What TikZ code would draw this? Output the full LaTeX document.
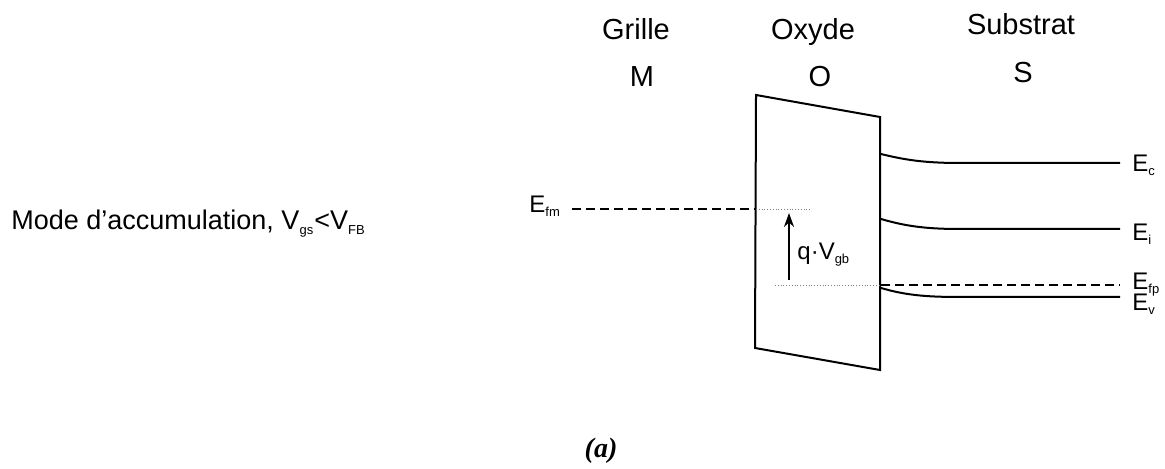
\documentclass[tikz,border=0pt]{standalone}
\usepackage{fontspec}
\setmainfont{Liberation Sans}
\newfontfamily\capfont{Liberation Serif}
\usetikzlibrary{arrows.meta}
\tikzset{
  band/.style={line width=1pt},
  fermi/.style={line width=1pt, dash pattern=on 4.5pt off 2.5pt},
  guide/.style={line width=0.4pt, gray, densely dotted},
  lbl/.style={inner sep=0pt, font=\fontsize{12}{14}\selectfont},
  head/.style={inner sep=0pt, anchor=base, font=\fontsize{14.5}{17}\selectfont}
}
\newcommand{\sub}[1]{\textsubscript{\fontsize{6.5}{7}\selectfont #1}}
\begin{document}
\begin{tikzpicture}[x=0.5pt, y=-0.5pt]
  \useasboundingbox (0,0) rectangle (1165,469);
  % titres
  \node[head] (grille) at (636,40) {Grille};
  \node[head] (oxyde) at (813,40) {Oxyde};
  \node[head] (substrat) at (1021,35) {Substrat};
  \node[head] (m) at (642,87) {M};
  \node[head] (o) at (820,87) {O};
  \node[head] (s) at (1023,83) {S};
  \node[inner sep=0pt, anchor=base west, font=\fontsize{13.5}{16}\selectfont] (mode) at (11,230)
    {Mode d'accumulation, V\sub{gs}<V\sub{FB}};
  % oxyde
  \coordinate (ox1) at (756,95);
  \coordinate (ox2) at (880,117);
  \coordinate (ox3) at (880,370);
  \coordinate (ox4) at (755,348);
  \draw[line width=1pt] (ox1)--(ox2)--(ox3)--(ox4)--cycle;
  % niveaux
  \coordinate (fm1) at (572,209);
  \coordinate (fm2) at (756,209);
  \coordinate (fm3) at (810,209);
  \coordinate (fp0) at (775,285);
  \coordinate (fp1) at (881,285);
  \coordinate (fp2) at (1120,285);
  \coordinate (c1) at (881,154);
  \coordinate (c2) at (1120,163);
  \coordinate (i1) at (881,219);
  \coordinate (i2) at (1120,229);
  \coordinate (v1) at (881,288);
  \coordinate (v2) at (1120,297);
  \draw[fermi] (fm1)--(fm2);
  \draw[guide] (fm2)--(fm3);
  \draw[guide] (fp0)--(fp1);
  \draw[fermi] (fp1)--(fp2);
  \draw[band] (c1) .. controls (905,160) and (925,163) .. (960,163) -- (c2);
  \draw[band] (i1) .. controls (905,226) and (925,229) .. (960,229) -- (i2);
  \draw[band] (v1) .. controls (905,295) and (925,297) .. (960,297) -- (v2);
  \coordinate (a1) at (789,280);
  \coordinate (a2) at (789,213);
  \draw[line width=1.4pt, -{Stealth[length=7pt, width=5pt]}] (a1)--(a2);
  \node[lbl, anchor=base west] (qv) at (797,260) {q·V\sub{gb}};
  % etiquettes
  \node[lbl, anchor=base west] (efm) at (529,213) {E\sub{fm}};
  \node[lbl, anchor=base west] (ec) at (1132,172) {E\sub{c}};
  \node[lbl, anchor=base west] (ei) at (1132,241) {E\sub{i}};
  \node[lbl, anchor=base west] (efp) at (1132,290) {E\sub{fp}};
  \node[lbl, anchor=base west] (ev) at (1132,311) {E\sub{v}};
  \node[inner sep=0pt, anchor=base, font=\capfont\bfseries\itshape\fontsize{14}{16}\selectfont] (cap) at (601,457) {(a)};
\end{tikzpicture}
\end{document}
